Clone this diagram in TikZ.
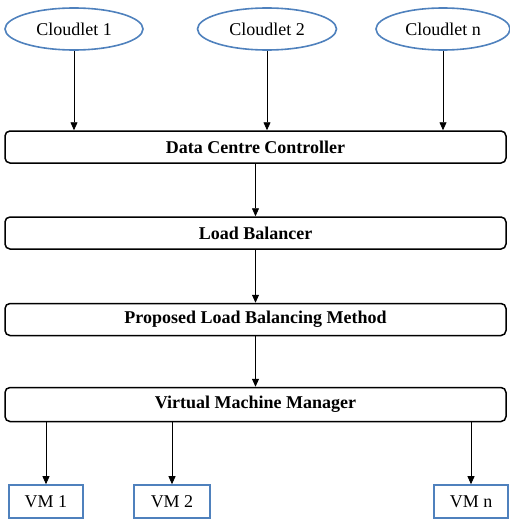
\documentclass[tikz,border=0pt]{standalone}
\usepackage{fontspec}
\setmainfont{Liberation Serif}
\usetikzlibrary{shapes.geometric,arrows.meta}
\definecolor{edgeblue}{RGB}{79,129,189}
\begin{document}
\begin{tikzpicture}[x=1pt,y=-1pt,
  cloud/.style={ellipse,draw=edgeblue,line width=1.6pt,inner sep=0pt,
    minimum height=42pt,font=\fontsize{18}{20}\selectfont},
  stage/.style={draw=black,line width=1.5pt,rounded corners=5pt,inner sep=0pt,
    minimum width=501pt,minimum height=32pt,font=\bfseries\fontsize{18}{20}\selectfont},
  vmbox/.style={draw=edgeblue,line width=1.6pt,inner sep=0pt,
    minimum height=33pt,font=\fontsize{18}{20}\selectfont},
  flow/.style={line width=0.8pt,-{Triangle[length=8pt,width=7pt]}}]
\useasboundingbox (0,0) rectangle (509,519);
% cloudlets
\node[cloud,minimum width=138pt] (c1) at (74,29) {Cloudlet 1};
\node[cloud,minimum width=139pt] (c2) at (267,29) {Cloudlet 2};
\node[cloud,minimum width=134pt] (cn) at (443,29) {Cloudlet n};
% processing stages
\node[stage] (dcc) at (255.5,147) {Data Centre Controller};
\node[stage] (lb)  at (255.5,233) {Load Balancer};
\node[stage] (plb) at (255.5,319.5) {Proposed Load Balancing Method};
\node[stage,minimum height=34pt] (vmm) at (255.5,404.5) {Virtual Machine Manager};
% virtual machines
\node[vmbox,minimum width=74pt] (vm1) at (46,501.5) {VM 1};
\node[vmbox,minimum width=76pt] (vm2) at (172,501.5) {VM 2};
\node[vmbox,minimum width=74pt] (vmn) at (471,501.5) {VM n};
% connectors
\draw[flow] (c1.south) -- (c1.south |- dcc.north);
\draw[flow] (c2.south) -- (c2.south |- dcc.north);
\draw[flow] (cn.south) -- (cn.south |- dcc.north);
\draw[flow] (dcc) -- (lb);
\draw[flow] (lb) -- (plb);
\draw[flow] (plb) -- (vmm);
\draw[flow] (vm1.north |- vmm.south) -- (vm1.north);
\draw[flow] (vm2.north |- vmm.south) -- (vm2.north);
\draw[flow] (vmn.north |- vmm.south) -- (vmn.north);
\end{tikzpicture}
\end{document}
